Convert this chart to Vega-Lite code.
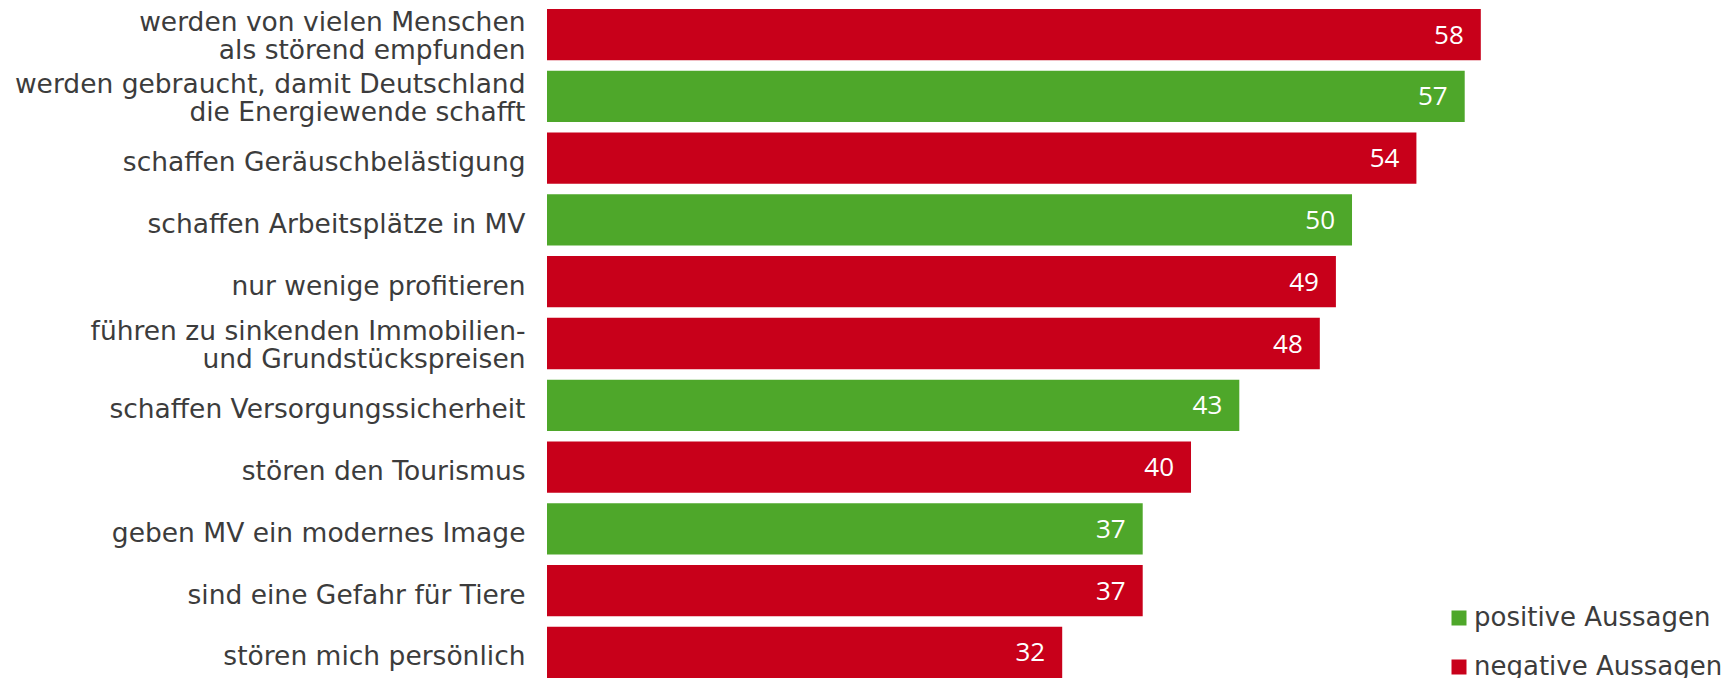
{
  "$schema": "https://vega.github.io/schema/vega-lite/v6.json",
  "width": 1189,
  "height": 669,
  "autosize": {"type": "none"},
  "padding": {"left": 547, "top": 9, "right": 0, "bottom": 0},
  "background": "white",
  "config": {"view": {"stroke": null}, "font": "DejaVu Sans"},
  "data": {
    "values": [
      {"aussage": "werden von vielen Menschen|als störend empfunden", "wert": 58, "typ": "negative Aussagen"},
      {"aussage": "werden gebraucht, damit Deutschland|die Energiewende schafft", "wert": 57, "typ": "positive Aussagen"},
      {"aussage": "schaffen Geräuschbelästigung", "wert": 54, "typ": "negative Aussagen"},
      {"aussage": "schaffen Arbeitsplätze in MV", "wert": 50, "typ": "positive Aussagen"},
      {"aussage": "nur wenige profitieren", "wert": 49, "typ": "negative Aussagen"},
      {"aussage": "führen zu sinkenden Immobilien-|und Grundstückspreisen", "wert": 48, "typ": "negative Aussagen"},
      {"aussage": "schaffen Versorgungssicherheit", "wert": 43, "typ": "positive Aussagen"},
      {"aussage": "stören den Tourismus", "wert": 40, "typ": "negative Aussagen"},
      {"aussage": "geben MV ein modernes Image", "wert": 37, "typ": "positive Aussagen"},
      {"aussage": "sind eine Gefahr für Tiere", "wert": 37, "typ": "negative Aussagen"},
      {"aussage": "stören mich persönlich", "wert": 32, "typ": "negative Aussagen"}
    ]
  },
  "encoding": {
    "y": {
      "field": "aussage",
      "type": "nominal",
      "sort": null,
      "scale": {"paddingInner": 0.17, "paddingOuter": 0},
      "axis": {
        "title": null,
        "domain": false,
        "ticks": false,
        "labelFont": "DejaVu Sans",
        "labelFontSize": 26.5,
        "labelColor": "#3c3c3c",
        "labelPadding": 22,
        "labelLineHeight": 28,
        "labelLimit": 0,
        "labelExpr": "split(datum.label, '|')",
        "labelOffset": {"condition": {"test": "indexof(datum.value, '|') >= 0", "value": -11.5}, "value": 5}
      }
    },
    "x": {
      "field": "wert",
      "type": "quantitative",
      "scale": {"domain": [0, 73.85], "nice": false},
      "axis": null
    }
  },
  "layer": [
    {
      "mark": {"type": "bar"},
      "encoding": {
        "color": {
          "field": "typ",
          "type": "nominal",
          "scale": {"domain": ["positive Aussagen", "negative Aussagen"], "range": ["#4EA72A", "#C8001A"]},
          "legend": {
            "title": null,
            "orient": "none",
            "legendX": 899,
            "legendY": 596,
            "symbolType": "square",
            "symbolSize": 225,
            "symbolStrokeWidth": 0,
            "labelFont": "DejaVu Sans",
            "labelFontSize": 26,
            "labelColor": "#3c3c3c",
            "labelOffset": 2,
            "labelLimit": 0,
            "rowPadding": 23,
            "padding": 0
          }
        }
      }
    },
    {
      "mark": {"type": "text", "align": "right", "baseline": "middle", "dx": -17, "dy": 1, "color": "white", "fontSize": 26, "font": "Open Sans"},
      "encoding": {"text": {"field": "wert", "type": "quantitative"}}
    }
  ]
}
